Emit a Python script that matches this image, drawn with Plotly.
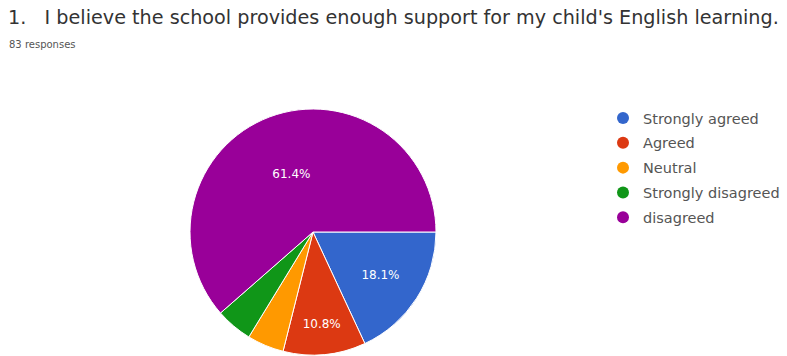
import plotly.graph_objects as go

labels = ["Strongly agreed", "Agreed", "Neutral", "Strongly disagreed", "disagreed"]
counts = [15, 9, 4, 4, 51]
colors = ["#3366cc", "#dc3912", "#ff9900", "#109618", "#990099"]
title_text = "1.   I believe the school provides enough support for my child's English learning."
subtitle_text = "83 responses"

total = sum(counts)
texts = [f"{c / total * 100:.1f}%" if c / total >= 0.05 else "" for c in counts]

W, H = 787, 356
FONT = "DejaVu Sans"
fig = go.Figure()
fig.add_trace(go.Pie(
    labels=labels, values=counts, sort=False, direction="clockwise", rotation=90,
    marker=dict(colors=colors, line=dict(color="white", width=1)),
    text=texts, textinfo="text", textposition="inside", insidetextorientation="horizontal",
    textfont=dict(color="white", size=12, family=FONT),
    showlegend=False,
    domain=dict(x=[190 / W, 436 / W], y=[1 - 355 / H, 1 - 109 / H]),
))
for i, (lab, col) in enumerate(zip(labels, colors)):
    fig.add_trace(go.Scatter(
        x=[None], y=[None], mode="markers", name=lab, legendgroup=str(i),
        marker=dict(color=col, size=12, symbol="circle"),
    ))

fig.update_layout(
    width=W, height=H, margin=dict(l=0, r=0, t=0, b=0),
    paper_bgcolor="white", plot_bgcolor="white",
    xaxis=dict(visible=False), yaxis=dict(visible=False),
    legend=dict(x=603 / W, y=1 - 102 / H, xanchor="left", yanchor="top",
                font=dict(family=FONT, size=14.5, color="#555555"),
                tracegroupgap=3, itemwidth=30, bgcolor="rgba(0,0,0,0)"),
    annotations=[
        dict(text=title_text, x=6 / W, y=1 - 4 / H, xref="paper", yref="paper",
             xanchor="left", yanchor="top", showarrow=False,
             font=dict(family=FONT, size=19.2, color="#333333")),
        dict(text=subtitle_text, x=7 / W, y=1 - 37 / H, xref="paper", yref="paper",
             xanchor="left", yanchor="top", showarrow=False,
             font=dict(family=FONT, size=10, color="#555555")),
    ],
)
fig.write_html("out.html")
